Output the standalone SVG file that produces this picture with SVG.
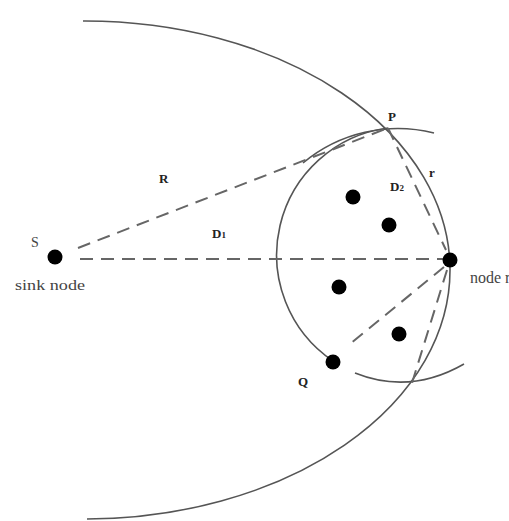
<svg xmlns="http://www.w3.org/2000/svg" width="509" height="521" viewBox="0 0 509 521">
<style>
.arc{fill:none;stroke:#555;stroke-width:1.6}
.dash{fill:none;stroke:#666;stroke-width:2;stroke-dasharray:13 8}
.dot{fill:#000}
.lbl{font-family:"Liberation Serif",serif;font-size:13px;fill:#222;font-weight:bold}
.txt{font-family:"Liberation Serif",serif;font-size:14px;fill:#444}
</style>
<rect width="509" height="521" fill="#fff"/>
<g id="arcs">
<path class="arc" d="M83,21 A365,249 0 0 1 87,519"/>
<path class="arc" d="M388,128 A128,128 0 0 0 333,361"/>
<path class="arc" d="M303,163 A148,148 0 0 1 434,133"/>
<path class="arc" d="M355,373 Q410,395 464,364"/>
</g>
<g id="connectors">
<line class="dash" x1="78" y1="248" x2="388" y2="128"/>
<line class="dash" x1="80" y1="259" x2="444" y2="259"/>
<line class="dash" x1="388" y1="128" x2="446" y2="250"/>
<line class="dash" x1="444" y1="267" x2="350" y2="344"/>
<line class="dash" x1="447" y1="270" x2="412" y2="383"/>
</g>
<g id="node-S">
<circle class="dot" cx="55" cy="257" r="7.5"/>
<text class="txt" x="31" y="247">S</text>
<text class="txt" x="15" y="290" style="font-size:15px" textLength="70" lengthAdjust="spacingAndGlyphs">sink node</text>
</g>
<g id="node-r">
<circle class="dot" cx="450" cy="260" r="7.5"/>
<text class="txt" x="470" y="283" style="font-size:16px">node r</text>
</g>
<g id="node-P"><text class="lbl" x="388" y="121">P</text></g>
<g id="node-Q">
<circle class="dot" cx="333" cy="362" r="7.5"/>
<text class="lbl" x="298" y="386">Q</text>
</g>
<g id="node-1"><circle class="dot" cx="353" cy="197" r="7.5"/></g>
<g id="node-2"><circle class="dot" cx="389" cy="225" r="7.5"/></g>
<g id="node-3"><circle class="dot" cx="339" cy="287" r="7.5"/></g>
<g id="node-4"><circle class="dot" cx="399" cy="334" r="7.5"/></g>
<g id="labels">
<text class="lbl" x="159" y="183">R</text>
<text class="lbl" x="212" y="238">D<tspan font-size="9">1</tspan></text>
<text class="lbl" x="390" y="191">D<tspan font-size="9">2</tspan></text>
<text class="lbl" x="429" y="177">r</text>
</g>
</svg>
